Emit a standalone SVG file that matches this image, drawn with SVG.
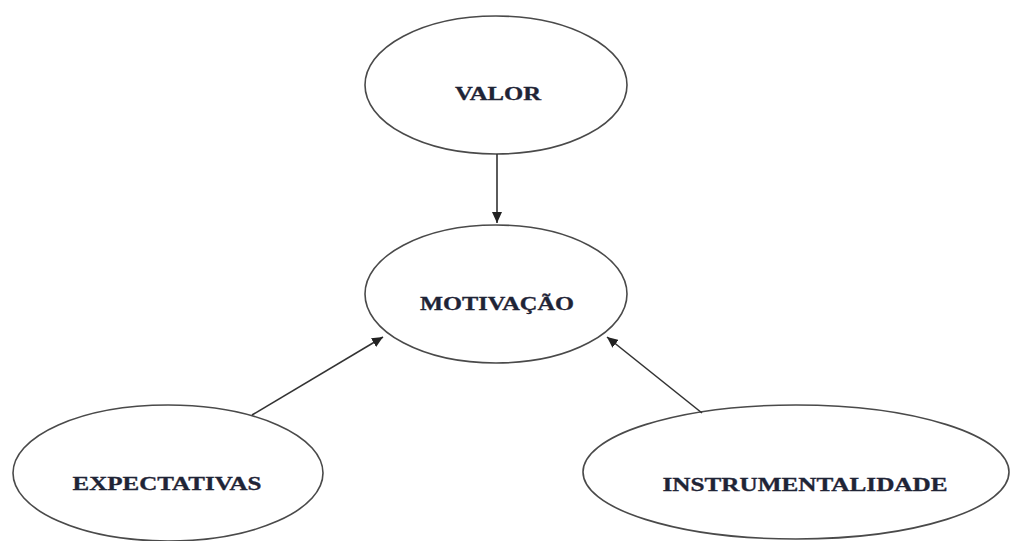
<svg xmlns="http://www.w3.org/2000/svg" width="1014" height="541" viewBox="0 0 1014 541">
<style>
.node ellipse{fill:#fff;stroke:#4a4a4a;stroke-width:1.6}
.node text{font-family:"Liberation Serif","Times New Roman",serif;font-weight:bold;font-size:18px;fill:#1f2436;stroke:#1f2436;stroke-width:0.3;text-anchor:middle}
.edge{stroke:#333;stroke-width:1.6;fill:none;marker-end:url(#arr)}
</style>
<defs>
<marker id="arr" markerUnits="userSpaceOnUse" markerWidth="12" markerHeight="10" refX="11" refY="5" orient="auto">
<path d="M0,0 L11,5 L0,10 z" fill="#222"/>
</marker>
</defs>
<rect width="1014" height="541" fill="#fff"/>
<g id="valor" class="node">
<ellipse cx="496" cy="85" rx="131" ry="69"/>
<text x="498" y="100" textLength="86" lengthAdjust="spacingAndGlyphs">VALOR</text>
</g>
<g id="motivacao" class="node">
<ellipse cx="496" cy="294" rx="131" ry="69"/>
<text x="497" y="310" textLength="154" lengthAdjust="spacingAndGlyphs">MOTIVAÇÃO</text>
</g>
<g id="expectativas" class="node">
<ellipse cx="168" cy="473" rx="155" ry="68"/>
<text x="167" y="490" textLength="189" lengthAdjust="spacingAndGlyphs">EXPECTATIVAS</text>
</g>
<g id="instrumentalidade" class="node">
<ellipse cx="796" cy="472" rx="213" ry="67"/>
<text x="805" y="491" textLength="285" lengthAdjust="spacingAndGlyphs">INSTRUMENTALIDADE</text>
</g>
<g id="connectors">
<line class="edge" x1="497" y1="154" x2="497" y2="223"/>
<line class="edge" x1="252" y1="415" x2="383" y2="337"/>
<line class="edge" x1="702" y1="413" x2="607" y2="337"/>
</g>
</svg>
